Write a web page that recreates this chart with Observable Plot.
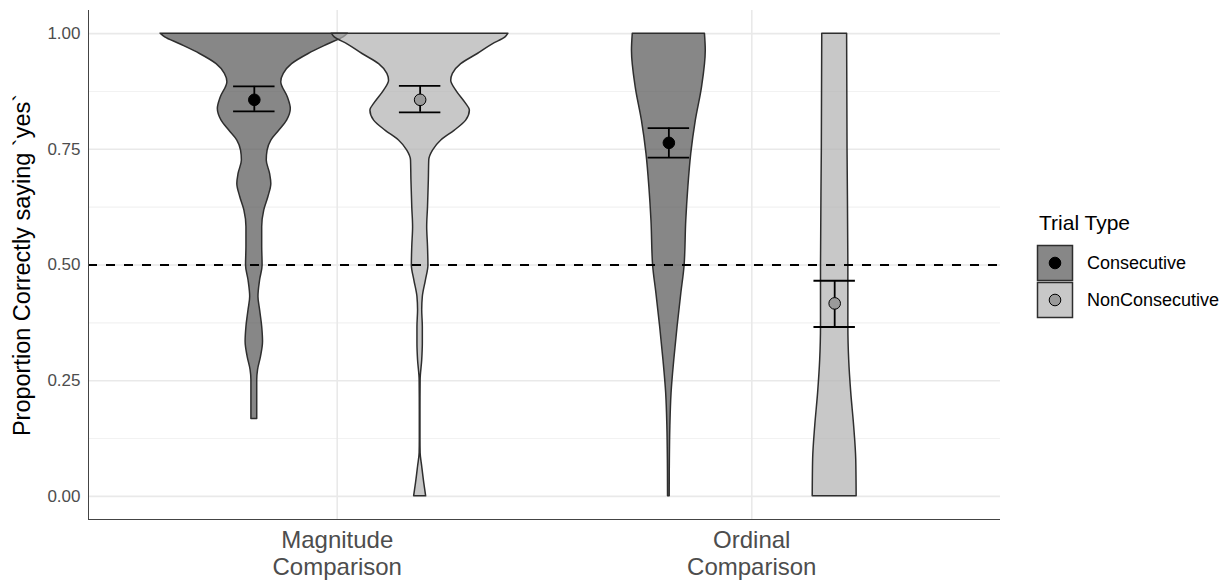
<!DOCTYPE html>
<html><head><meta charset="utf-8">
<script src="https://cdn.jsdelivr.net/npm/d3@7"></script>
<script src="https://cdn.jsdelivr.net/npm/@observablehq/plot@0.6"></script>
<style>
body{margin:0;background:#fff;font-family:"Liberation Sans",Arial,sans-serif}
#chart{position:relative;width:1231px;height:583px}
</style>
</head><body><div id="chart"></div>
<script>
// ---- categories ----
const comparisons = ["Magnitude Comparison", "Ordinal Comparison"];
const comparisonLabels = ["Magnitude\nComparison", "Ordinal\nComparison"];
const trialTypes = ["Consecutive", "NonConsecutive"];
const yTicks = [0, 0.25, 0.5, 0.75, 1];
const yMinorTicks = [0.125, 0.375, 0.625, 0.875];
const chanceLevel = 0.5;
const legendTitle = "Trial Type";
const yTitle = "Proportion Correctly saying `yes`";

// ---- violin profiles (proportion level, half-width in category units) ----
const magConsLevels = [1.000,0.992,0.977,0.956,0.934,0.913,0.895,0.862,0.837,0.812,0.790,0.769,0.747,0.726,0.697,0.675,0.647,0.618,0.582,0.539,0.499,0.467,0.431,0.402,0.366,0.334,0.301,0.273,0.251,0.167];
const magConsWidths = [0.226,0.215,0.179,0.131,0.091,0.071,0.065,0.081,0.088,0.079,0.060,0.041,0.032,0.030,0.038,0.041,0.034,0.024,0.019,0.019,0.020,0.014,0.010,0.014,0.019,0.021,0.016,0.009,0.007,0.007];

const magNonLevels = [1.000,0.992,0.977,0.956,0.934,0.913,0.898,0.877,0.848,0.834,0.812,0.790,0.769,0.747,0.726,0.683,0.625,0.582,0.539,0.499,0.467,0.431,0.402,0.366,0.330,0.294,0.251,0.187,0.122,0.093,0.064,0.028,0.000];
const magNonWidths = [0.213,0.206,0.175,0.139,0.099,0.079,0.075,0.087,0.111,0.120,0.111,0.083,0.051,0.031,0.022,0.021,0.019,0.017,0.019,0.020,0.014,0.0065,0.005,0.0065,0.0065,0.005,0.0012,0.0008,0.0008,0.0012,0.005,0.010,0.0145];

const ordConsLevels = [1.000,0.963,0.884,0.812,0.740,0.668,0.596,0.499,0.438,0.366,0.294,0.223,0.151,0.079,0.000];
const ordConsWidths = [0.087,0.089,0.080,0.065,0.054,0.047,0.042,0.038,0.030,0.021,0.013,0.0065,0.0036,0.0024,0.002];

const ordNonLevels = [1.000,0.750,0.499,0.438,0.366,0.294,0.223,0.151,0.079,0.000];
const ordNonWidths = [0.030,0.031,0.033,0.033,0.033,0.035,0.040,0.047,0.052,0.053];

// ---- summary: means and error bar limits (order: Mag-Cons, Mag-Non, Ord-Cons, Ord-Non) ----
const groupComparison = [0, 0, 1, 1];
const groupTrialType = [0, 1, 0, 1];
const meanValues = [0.857, 0.857, 0.764, 0.417];
const lowerValues = [0.832, 0.830, 0.732, 0.366];
const upperValues = [0.886, 0.887, 0.796, 0.466];

// ---- styles ----
const violinFill = ["#545454", "#b1b1b1"];
const violinOpacity = 0.7;
const dotFill = ["#000000", "#9a9a9a"];
const dodge = 0.2;      // dodge offset in category units
const capHalf = 0.05;   // error bar cap half width

const profiles = [
  [magConsLevels, magConsWidths],
  [magNonLevels, magNonWidths],
  [ordConsLevels, ordConsWidths],
  [ordNonLevels, ordNonWidths]
];
const center = (g) => groupComparison[g] + 1 + (groupTrialType[g] === 0 ? -dodge : dodge);

const violinRows = [];
profiles.forEach(([lv, wd], g) => {
  lv.forEach((v, i) => violinRows.push({
    group: g, type: trialTypes[groupTrialType[g]], level: v,
    lo: center(g) - wd[i], hi: center(g) + wd[i]
  }));
});
const stats = meanValues.map((m, g) => ({
  group: g, typeIdx: groupTrialType[g], x: center(g), mean: m, lo: lowerValues[g], hi: upperValues[g]
}));
const caps = stats.flatMap(s => [{x: s.x, y: s.lo}, {x: s.x, y: s.hi}]);

const plot = Plot.plot({
  width: 1231, height: 583,
  marginLeft: 88, marginRight: 231, marginTop: 10, marginBottom: 64,
  style: {fontFamily: "'Liberation Sans', Arial, sans-serif", background: "#fff"},
  x: {type: "linear", domain: [0.4, 2.6]},
  y: {domain: [-0.05, 1.05]},
  marks: [
    Plot.ruleY(yMinorTicks, {stroke: "#f2f2f2", strokeWidth: 1.1}),
    Plot.ruleY(yTicks, {stroke: "#e9e9e9", strokeWidth: 1.6}),
    Plot.ruleX([1, 2], {stroke: "#e9e9e9", strokeWidth: 1.6}),
    Plot.areaX(violinRows, {
      y: "level", x1: "lo", x2: "hi", z: "group",
      fill: d => violinFill[groupTrialType[d.group]], fillOpacity: violinOpacity,
      stroke: "#2e2e2e", strokeWidth: 1.5, curve: "monotone-y"
    }),
    Plot.ruleY([chanceLevel], {stroke: "black", strokeWidth: 1.8, strokeDasharray: "9,9"}),
    Plot.ruleX(stats, {x: "x", y1: "lo", y2: "hi", stroke: "black", strokeWidth: 1.8}),
    Plot.ruleY(caps, {y: "y", x1: d => d.x - capHalf, x2: d => d.x + capHalf, stroke: "black", strokeWidth: 1.8}),
    Plot.dot(stats, {x: "x", y: "mean", r: 5.8, fill: d => dotFill[d.typeIdx], stroke: "black", strokeWidth: 1}),
    Plot.ruleX([0.4], {stroke: "#444", strokeWidth: 1}),
    Plot.ruleY([-0.05], {stroke: "#444", strokeWidth: 1}),
    Plot.axisY(yTicks, {tickFormat: d3.format(".2f"), tickSize: 0, tickPadding: 8, fontSize: 17, color: "#4d4d4d", label: null}),
    Plot.axisX([1, 2], {tickFormat: d => comparisonLabels[d - 1], tickSize: 0, tickPadding: 10, fontSize: 24, lineHeight: 1.1, color: "#4d4d4d", label: null}),
    Plot.text([yTitle], {frameAnchor: "left", dx: -66, rotate: -90, fontSize: 23.5, fill: "black", textAnchor: "middle"})
  ]
});
document.getElementById("chart").appendChild(plot);

// ---- legend (right side) ----
const svg = d3.select(plot);
const lg = svg.append("g").attr("font-family", "'Liberation Sans', Arial, sans-serif").attr("text-anchor", "start");
lg.append("text").attr("x", 1039).attr("y", 230).attr("font-size", 21).attr("fill", "black").attr("text-anchor", "start").text(legendTitle);
trialTypes.forEach((t, i) => {
  const y0 = 245.5 + i * 37;
  lg.append("rect").attr("x", 1037.5).attr("y", y0).attr("width", 35).attr("height", 35)
    .attr("fill", "white");
  lg.append("rect").attr("x", 1037.5).attr("y", y0).attr("width", 35).attr("height", 35)
    .attr("fill", violinFill[i]).attr("fill-opacity", violinOpacity)
    .attr("stroke", "#2e2e2e").attr("stroke-width", 1.5);
  lg.append("circle").attr("cx", 1055).attr("cy", y0 + 17.5).attr("r", 5.8)
    .attr("fill", dotFill[i]).attr("stroke", "black").attr("stroke-width", 1);
  lg.append("text").attr("x", 1087).attr("y", y0 + 17.5).attr("dy", "0.35em")
    .attr("font-size", 18).attr("fill", "black").attr("text-anchor", "start").text(t);
});
</script>
</body></html>
